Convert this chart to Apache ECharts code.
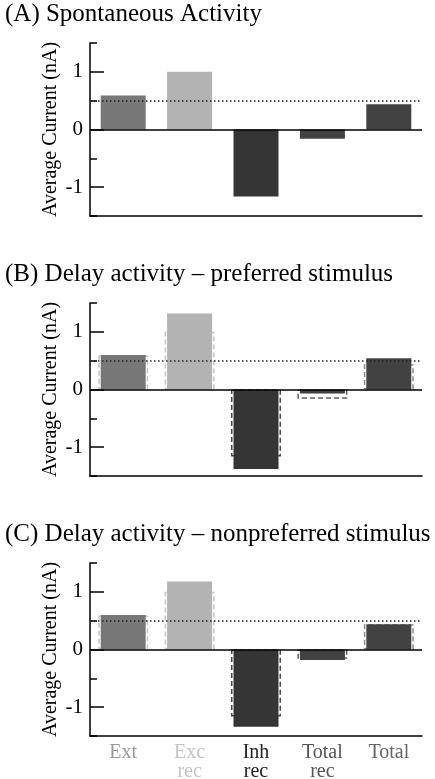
<!DOCTYPE html>
<html>
<head>
<meta charset="utf-8">
<script src="https://cdn.jsdelivr.net/npm/echarts@6/dist/echarts.min.js"></script>
<style>
html,body{margin:0;padding:0;background:#fff;}
#chart{width:435px;height:779px;}
</style>
</head>
<body>
<div id="chart"></div>
<script>
// ---- data ----
var categories = ['Ext', 'Exc\nrec', 'Inh\nrec', 'Total\nrec', 'Total'];
var spontaneous = [0.59, 1.00, -1.16, -0.16, 0.44];
var delayPreferred = [0.60, 1.32, -1.38, -0.07, 0.54];
var delayNonpreferred = [0.60, 1.18, -1.34, -0.18, 0.44];
var referenceLevel = 0.5;
var yTickLabels = ['-1.5', '-1', '-0.5', '0', '0.5', '1', '1.5'];
var panelTitles = ['(A) Spontaneous Activity', '(B) Delay activity \u2013 preferred stimulus', '(C) Delay activity \u2013 nonpreferred stimulus'];
var yAxisName = 'Average Current (nA)';

// ---- styles ----
var FONT = 'Liberation Serif';
var barColors = ['#777777', '#b3b3b3', '#353535', '#424242', '#424242'];
var dashColors = ['#c4c4c4', '#c4c4c4', '#4a4a4a', '#5a5a5a', '#8a8a8a'];
var labelColors = ['#999999', '#c4c4c4', '#222222', '#555555', '#666666'];
var gridTops = [43, 303, 563];
var gridH = 173;

var panels = [
  { values: spontaneous, dashed: null },
  { values: delayPreferred, dashed: spontaneous },
  { values: delayNonpreferred, dashed: spontaneous }
];

var option = {
  animation: false,
  backgroundColor: '#fff',
  textStyle: { fontFamily: FONT },
  title: [], grid: [], xAxis: [], yAxis: [], series: []
};

panels.forEach(function (p, i) {
  option.title.push({
    text: panelTitles[i], left: 5, top: gridTops[i] - 41, padding: 0,
    textStyle: { fontFamily: FONT, fontSize: 25, fontWeight: 'normal', color: '#000' }
  });
  option.grid.push({ left: 90, right: 13, top: gridTops[i], height: gridH, outerBoundsMode: 'none', containLabel: false });
  option.xAxis.push({
    type: 'category', gridIndex: i, data: categories,
    axisLine: { onZero: false, lineStyle: { color: '#000', width: 1.5 } },
    axisTick: { show: false },
    axisLabel: {
      show: i === 2, interval: 0, margin: 7,
      fontFamily: FONT, fontSize: 20, lineHeight: 19,
      color: function (v, idx) { return labelColors[idx]; }
    }
  });
  option.xAxis.push({
    type: 'category', gridIndex: i, data: categories, show: false
  });
  option.yAxis.push({
    type: 'value', gridIndex: i, min: -1.5, max: 1.5, interval: 0.5,
    name: yAxisName, nameLocation: 'middle', nameGap: 29,
    nameTextStyle: { fontFamily: FONT, fontSize: 20, color: '#000' },
    axisLine: { show: true, lineStyle: { color: '#000', width: 1.5 } },
    axisTick: { show: true, inside: true, length: 7, lineStyle: { color: '#000', width: 1.5 } },
    axisLabel: { show: false },
    splitLine: { show: false }
  });
  option.yAxis.push({
    type: 'category', gridIndex: i, data: yTickLabels, boundaryGap: false,
    position: 'left',
    axisLine: { show: false },
    axisTick: { show: true, inside: true, length: 14,
      interval: function (idx) { return idx % 2 === 1; },
      lineStyle: { color: '#000', width: 1.5 } },
    axisLabel: { show: true, margin: 7, fontFamily: FONT, fontSize: 21, color: '#000',
      interval: function (idx) { return idx % 2 === 1; } },
    splitLine: { show: false }
  });

  if (p.dashed) {
    option.series.push({
      type: 'bar', xAxisIndex: 2 * i + 1, yAxisIndex: 2 * i, barWidth: 50, z: 1,
      silent: true,
      data: p.dashed.map(function (v, k) {
        return { value: v, itemStyle: { color: 'rgba(0,0,0,0)', borderColor: dashColors[k], borderWidth: 1.5, borderType: [5, 3] } };
      })
    });
  }
  option.series.push({
    type: 'bar', xAxisIndex: 2 * i, yAxisIndex: 2 * i, barWidth: 45, z: 2,
    silent: true,
    data: p.values.map(function (v, k) {
      return { value: v, itemStyle: { color: barColors[k] } };
    }),
    markLine: {
      silent: true, symbol: 'none', label: { show: false }, animation: false,
      data: [
        { yAxis: 0, lineStyle: { color: '#000', width: 1.5, type: 'solid' } },
        { yAxis: referenceLevel, lineStyle: { color: '#222', width: 1.5, type: [1.5, 2.5] } }
      ]
    }
  });
});

var chart = echarts.init(document.getElementById('chart'), null, { renderer: 'canvas' });
chart.setOption(option);
</script>
</body>
</html>
